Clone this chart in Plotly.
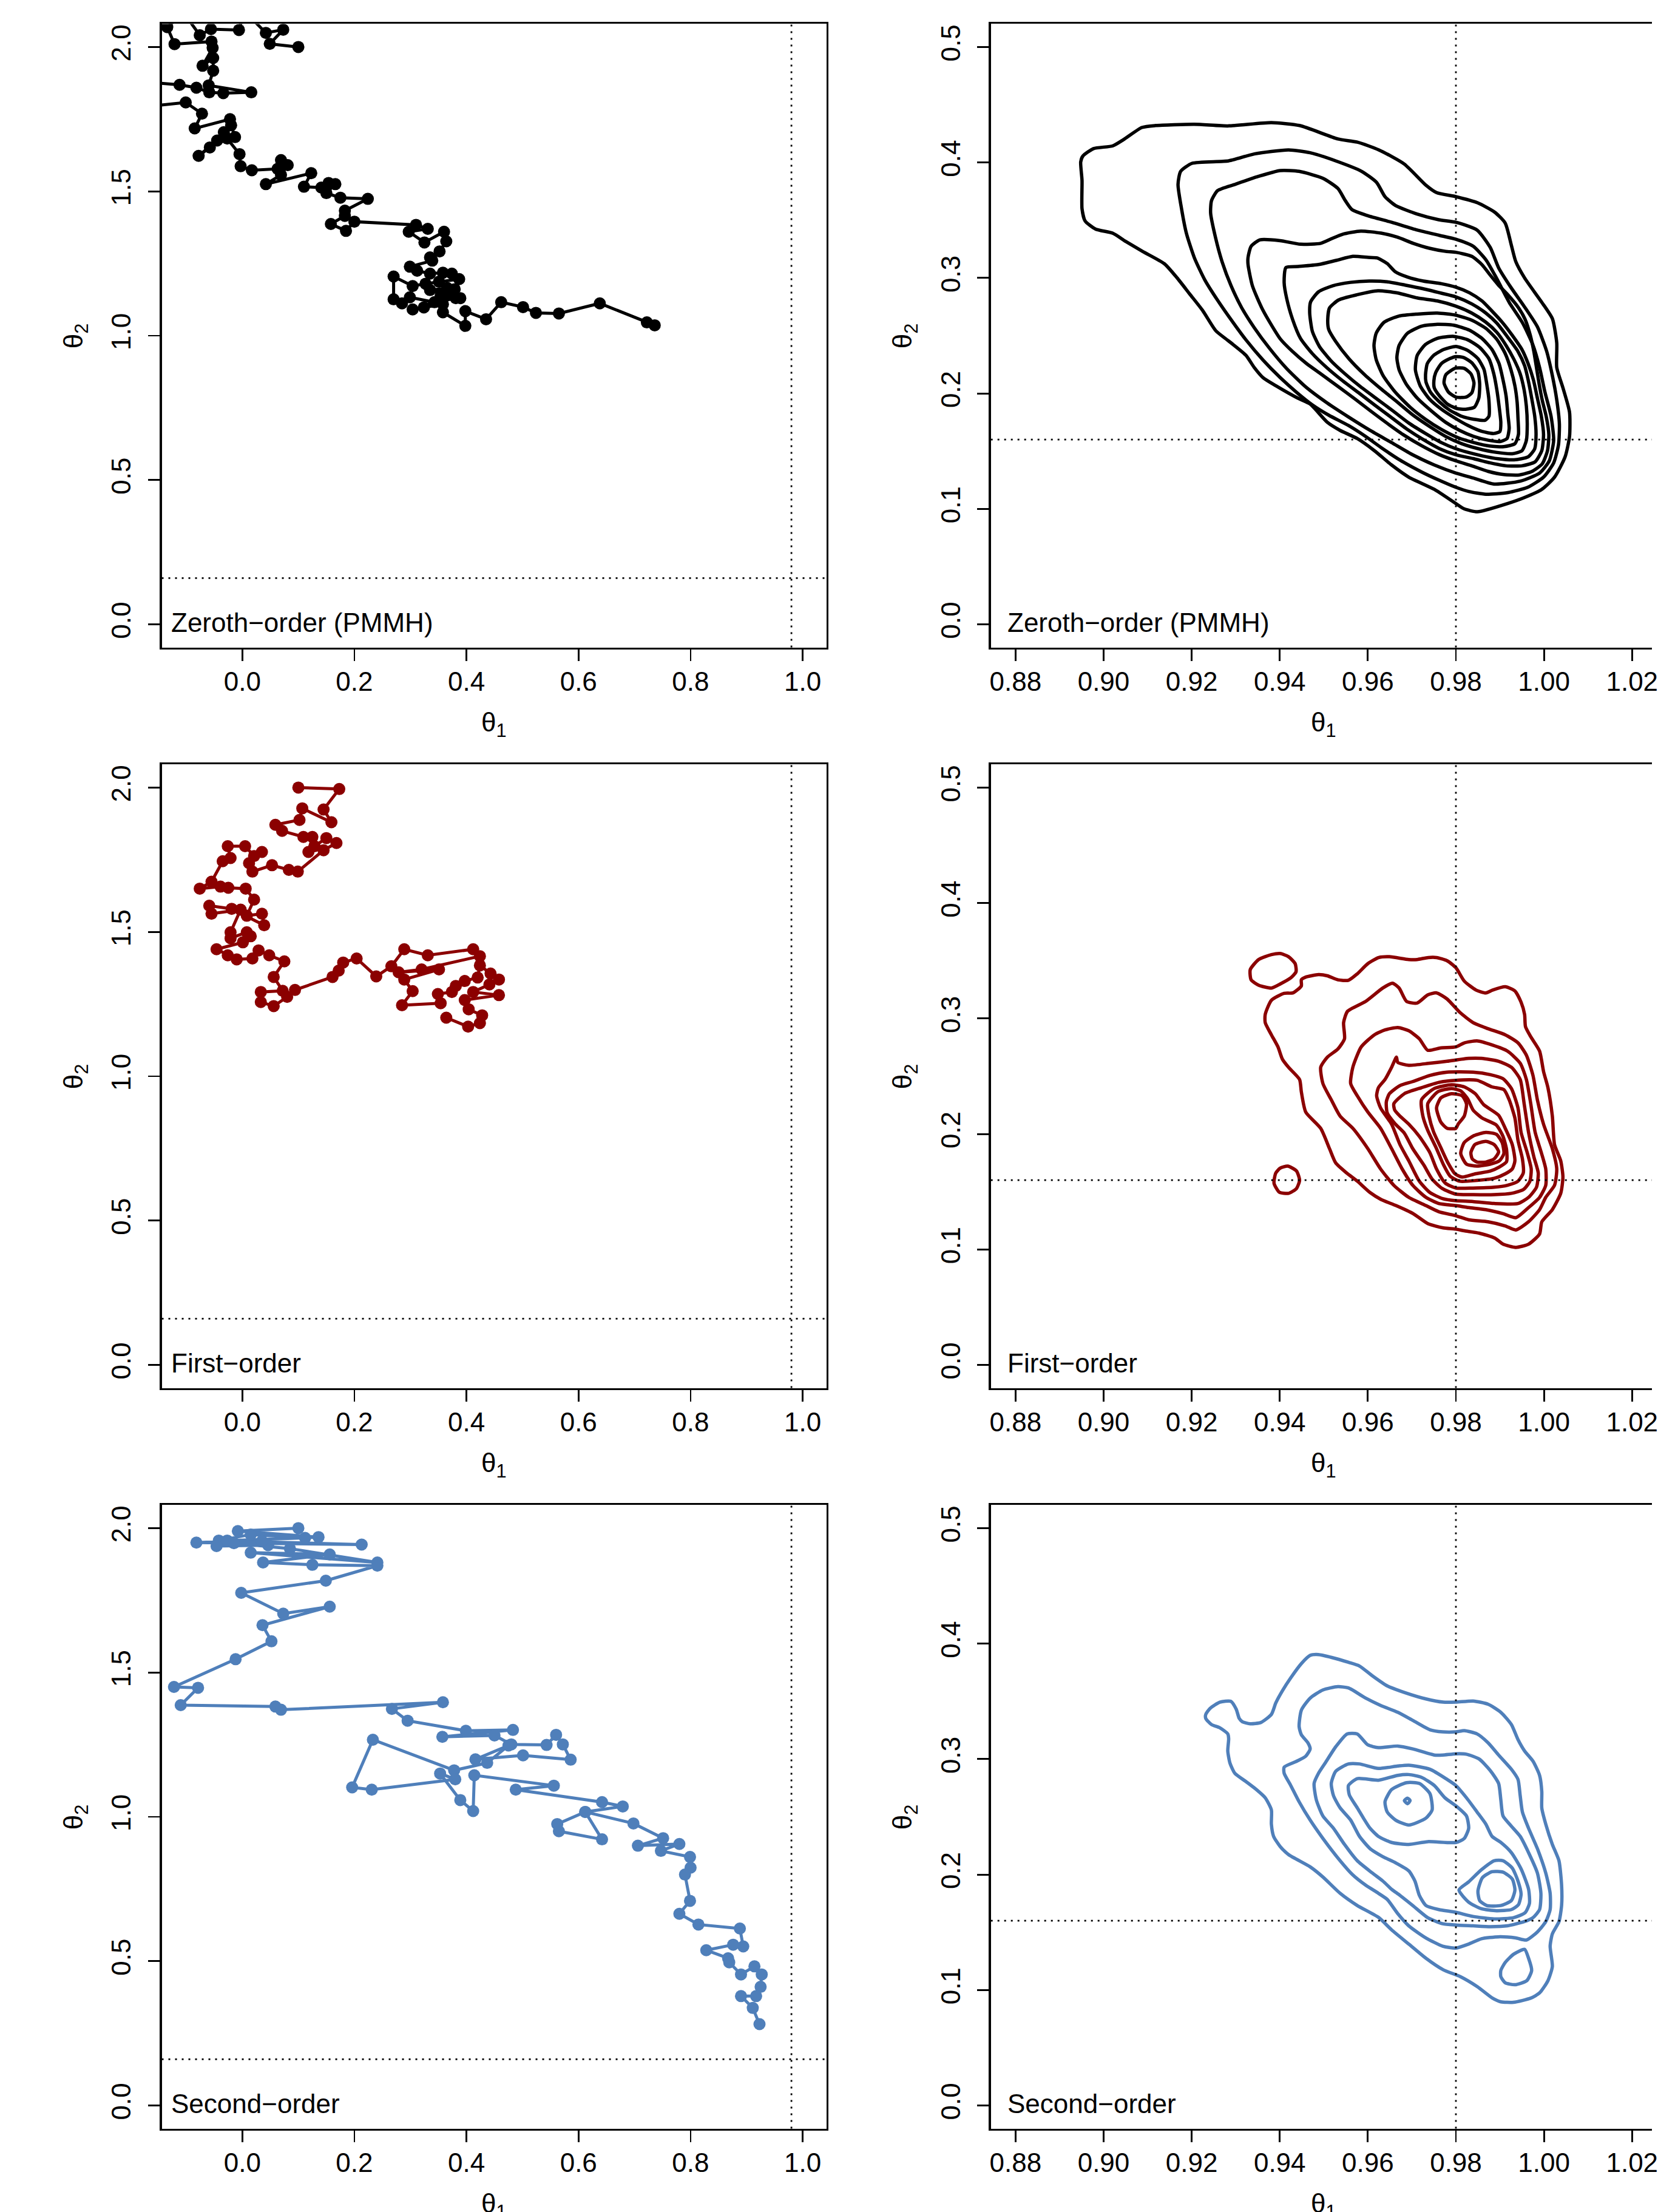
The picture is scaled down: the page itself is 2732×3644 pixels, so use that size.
import plotly.graph_objects as go

# ---------------- data ----------------
theta_true = [0.98, 0.16]

zeroth_theta1 = [0.100, 0.049, 0.073, 0.042, 0.004, -0.006, -0.056, -0.076, -0.104, -0.134,
                 -0.121, -0.055, -0.053, -0.071, -0.052, -0.052, -0.060, 0.016, -0.034, -0.059,
                 -0.082, -0.112, -0.181, -0.189, -0.101, -0.072, -0.085, -0.022, -0.020, -0.013,
                 -0.033, -0.045, -0.078, -0.058, -0.027, -0.005, -0.003, 0.017, 0.063, 0.069,
                 0.081, 0.069, 0.042, 0.123, 0.110, 0.141, 0.154, 0.166, 0.150, 0.175,
                 0.224, 0.183, 0.183, 0.158, 0.185, 0.200, 0.310, 0.331, 0.297, 0.325,
                 0.360, 0.364, 0.352, 0.335, 0.339, 0.299, 0.312, 0.335, 0.358, 0.374,
                 0.387, 0.351, 0.327, 0.304, 0.270, 0.270, 0.285, 0.299, 0.343, 0.381,
                 0.389, 0.364, 0.335, 0.366, 0.379, 0.354, 0.324, 0.304, 0.358, 0.358,
                 0.398, 0.398, 0.435, 0.462, 0.501, 0.524, 0.565, 0.638, 0.722, 0.736]
zeroth_theta2 = [2.000, 2.011, 2.060, 2.049, 2.124, 2.059, 2.062, 2.041, 2.117, 2.069,
                 2.010, 2.019, 1.997, 1.935, 1.962, 1.918, 1.867, 1.843, 1.840, 1.843,
                 1.859, 1.869, 1.880, 1.790, 1.808, 1.769, 1.718, 1.750, 1.729, 1.688,
                 1.705, 1.676, 1.623, 1.652, 1.683, 1.629, 1.587, 1.573, 1.578, 1.608,
                 1.591, 1.557, 1.525, 1.563, 1.516, 1.513, 1.529, 1.525, 1.494, 1.478,
                 1.474, 1.433, 1.415, 1.387, 1.363, 1.395, 1.384, 1.370, 1.360, 1.323,
                 1.360, 1.327, 1.292, 1.271, 1.260, 1.239, 1.225, 1.215, 1.218, 1.215,
                 1.196, 1.187, 1.180, 1.172, 1.205, 1.126, 1.112, 1.133, 1.116, 1.130,
                 1.130, 1.147, 1.158, 1.165, 1.161, 1.140, 1.098, 1.091, 1.109, 1.081,
                 1.034, 1.085, 1.057, 1.116, 1.099, 1.079, 1.077, 1.112, 1.046, 1.036]

first_theta1 = [0.100, 0.173, 0.145, 0.159, 0.107, 0.102, 0.059, 0.071, 0.109, 0.125,
                0.118, 0.129, 0.150, 0.168, 0.145, 0.099, 0.083, 0.053, 0.018, 0.012,
                0.035, 0.021, 0.005, -0.026, -0.021, -0.035, -0.055, -0.076, -0.039, -0.025,
                0.006, 0.021, 0.008, 0.035, 0.039, -0.019, -0.059, -0.055, -0.003, -0.021,
                -0.021, 0.008, 0.015, 0.001, -0.046, -0.026, -0.010, 0.018, 0.029, 0.048,
                0.075, 0.056, 0.072, 0.033, 0.033, 0.056, 0.080, 0.094, 0.161, 0.172,
                0.180, 0.204, 0.239, 0.266, 0.289, 0.331, 0.412, 0.424, 0.320, 0.279,
                0.351, 0.289, 0.304, 0.285, 0.354, 0.349, 0.374, 0.381, 0.397, 0.420,
                0.424, 0.443, 0.458, 0.441, 0.412, 0.458, 0.397, 0.404, 0.428, 0.424,
                0.403, 0.364]
first_theta2 = [2.000, 1.995, 1.924, 1.880, 1.928, 1.888, 1.871, 1.850, 1.829, 1.829,
                1.777, 1.797, 1.825, 1.808, 1.783, 1.709, 1.715, 1.731, 1.709, 1.738,
                1.777, 1.763, 1.797, 1.797, 1.756, 1.745, 1.674, 1.650, 1.657, 1.653,
                1.650, 1.612, 1.556, 1.563, 1.523, 1.580, 1.591, 1.563, 1.577, 1.499,
                1.478, 1.499, 1.485, 1.464, 1.440, 1.419, 1.405, 1.408, 1.436, 1.419,
                1.398, 1.344, 1.296, 1.292, 1.257, 1.243, 1.275, 1.299, 1.344, 1.366,
                1.394, 1.408, 1.346, 1.381, 1.440, 1.419, 1.440, 1.416, 1.370, 1.360,
                1.370, 1.335, 1.295, 1.246, 1.253, 1.285, 1.292, 1.313, 1.330, 1.342,
                1.384, 1.356, 1.335, 1.318, 1.292, 1.281, 1.264, 1.232, 1.211, 1.184,
                1.172, 1.203]

second_theta1 = [0.100, -0.008, 0.136, -0.082, 0.213, -0.042, 0.015, 0.112, -0.027, -0.046,
                 0.046, 0.035, -0.015, 0.085, 0.241, 0.015, 0.156, 0.037, 0.125, 0.241,
                 0.149, -0.002, 0.073, 0.156, 0.036, 0.052, -0.012, -0.122, -0.079, -0.110,
                 0.059, 0.069, 0.358, 0.267, 0.295, 0.399, 0.483, 0.357, 0.450, 0.480,
                 0.543, 0.560, 0.572, 0.586, 0.501, 0.416, 0.475, 0.437, 0.378, 0.233,
                 0.196, 0.231, 0.380, 0.353, 0.389, 0.412, 0.414, 0.556, 0.488, 0.642,
                 0.679, 0.612, 0.642, 0.565, 0.562, 0.612, 0.698, 0.751, 0.706, 0.780,
                 0.747, 0.799, 0.800, 0.790, 0.799, 0.780, 0.814, 0.888, 0.894, 0.876,
                 0.828, 0.867, 0.869, 0.890, 0.914, 0.927, 0.925, 0.917, 0.890, 0.911,
                 0.923]
second_theta2 = [2.000, 1.990, 1.969, 1.950, 1.943, 1.957, 1.978, 1.966, 1.957, 1.938,
                 1.941, 1.955, 1.948, 1.929, 1.881, 1.915, 1.909, 1.881, 1.873, 1.870,
                 1.818, 1.776, 1.704, 1.728, 1.664, 1.608, 1.546, 1.450, 1.447, 1.387,
                 1.382, 1.371, 1.397, 1.374, 1.333, 1.298, 1.301, 1.277, 1.282, 1.251,
                 1.249, 1.284, 1.251, 1.198, 1.213, 1.199, 1.247, 1.187, 1.161, 1.267,
                 1.102, 1.094, 1.130, 1.150, 1.058, 1.020, 1.144, 1.108, 1.094, 1.051,
                 1.036, 1.017, 0.922, 0.950, 0.975, 1.017, 0.977, 0.926, 0.900, 0.906,
                 0.882, 0.861, 0.824, 0.800, 0.709, 0.664, 0.627, 0.613, 0.551, 0.557,
                 0.538, 0.510, 0.496, 0.454, 0.482, 0.454, 0.411, 0.379, 0.379, 0.338,
                 0.282]

# density contour rings (theta1 / theta2), one list per ring, outermost first
zeroth_contour_theta1 = [
    [0.8953, 0.8977, 0.9021, 0.9045, 0.9087, 0.9118, 0.9206, 0.9284, 0.9381, 0.9445, 0.9532, 0.9576,
     0.9625, 0.9683, 0.9732, 0.9756, 0.9800, 0.9849, 0.9888, 0.9912, 0.9926, 0.9936, 0.9956, 0.9995,
     1.0019, 1.0029, 1.0029, 1.0043, 1.0058, 1.0058, 1.0048, 1.0024, 0.9995, 0.9956, 0.9917, 0.9849,
     0.9819, 0.9800, 0.9751, 0.9693, 0.9654, 0.9615, 0.9576, 0.9537, 0.9508, 0.9469, 0.9440, 0.9391,
     0.9362, 0.9342, 0.9323, 0.9284, 0.9255, 0.9225, 0.9196, 0.9167, 0.9138, 0.9089, 0.9050, 0.9021,
     0.8982, 0.8958, 0.8951, 0.8951, 0.8948, 0.8953],
    [0.9169, 0.9175, 0.9201, 0.9284, 0.9342, 0.9420, 0.9469, 0.9527, 0.9586, 0.9620, 0.9639, 0.9663,
     0.9712, 0.9761, 0.9800, 0.9848, 0.9878, 0.9897, 0.9926, 0.9955, 0.9985, 1.0006, 1.0019, 1.0029,
     1.0035, 1.0033, 1.0022, 0.9999, 0.9963, 0.9918, 0.9868, 0.9829, 0.9800, 0.9761, 0.9722, 0.9673,
     0.9634, 0.9595, 0.9556, 0.9512, 0.9474, 0.9439, 0.9401, 0.9362, 0.9323, 0.9289, 0.9259, 0.9230,
     0.9206, 0.9188, 0.9177, 0.9169],
    [0.9243, 0.9245, 0.9259, 0.9298, 0.9352, 0.9401, 0.9444, 0.9498, 0.9532, 0.9549, 0.9564, 0.9600,
     0.9654, 0.9712, 0.9761, 0.9800, 0.9839, 0.9868, 0.9892, 0.9921, 0.9951, 0.9975, 0.9990, 1.0002,
     1.0016, 1.0022, 1.0012, 0.9990, 0.9946, 0.9887, 0.9839, 0.9800, 0.9751, 0.9702, 0.9654, 0.9605,
     0.9556, 0.9508, 0.9459, 0.9415, 0.9376, 0.9342, 0.9313, 0.9289, 0.9269, 0.9254, 0.9243],
    [0.9328, 0.9335, 0.9355, 0.9401, 0.9447, 0.9493, 0.9520, 0.9543, 0.9584, 0.9630, 0.9667, 0.9703,
     0.9740, 0.9777, 0.9800, 0.9836, 0.9859, 0.9877, 0.9896, 0.9918, 0.9941, 0.9957, 0.9969, 0.9977,
     0.9983, 0.9989, 0.9996, 1.0005, 1.0011, 1.0008, 0.9996, 0.9973, 0.9944, 0.9909, 0.9873, 0.9836,
     0.9800, 0.9763, 0.9722, 0.9680, 0.9644, 0.9607, 0.9571, 0.9534, 0.9493, 0.9461, 0.9429, 0.9401,
     0.9362, 0.9338, 0.9328, 0.9328],
    [0.9410, 0.9414, 0.9442, 0.9488, 0.9528, 0.9566, 0.9601, 0.9621, 0.9644, 0.9662, 0.9690, 0.9726,
     0.9767, 0.9800, 0.9831, 0.9859, 0.9882, 0.9905, 0.9928, 0.9950, 0.9964, 0.9976, 0.9985, 0.9994,
     0.9999, 0.9995, 0.9980, 0.9950, 0.9914, 0.9877, 0.9841, 0.9800, 0.9763, 0.9726, 0.9690, 0.9653,
     0.9616, 0.9580, 0.9543, 0.9507, 0.9474, 0.9447, 0.9429, 0.9416, 0.9410],
    [0.9468, 0.9470, 0.9488, 0.9520, 0.9561, 0.9603, 0.9644, 0.9685, 0.9726, 0.9767, 0.9800, 0.9836,
     0.9868, 0.9893, 0.9918, 0.9941, 0.9956, 0.9965, 0.9972, 0.9979, 0.9982, 0.9979, 0.9964, 0.9932,
     0.9896, 0.9859, 0.9822, 0.9800, 0.9767, 0.9731, 0.9694, 0.9658, 0.9621, 0.9584, 0.9548, 0.9516,
     0.9490, 0.9474, 0.9468],
    [0.9509, 0.9513, 0.9534, 0.9575, 0.9623, 0.9667, 0.9712, 0.9758, 0.9799, 0.9836, 0.9868, 0.9893,
     0.9914, 0.9932, 0.9946, 0.9955, 0.9960, 0.9962, 0.9960, 0.9950, 0.9928, 0.9891, 0.9850, 0.9813,
     0.9777, 0.9740, 0.9703, 0.9667, 0.9630, 0.9593, 0.9557, 0.9527, 0.9511, 0.9509],
    [0.9614, 0.9619, 0.9637, 0.9671, 0.9712, 0.9758, 0.9799, 0.9836, 0.9868, 0.9893, 0.9912, 0.9925,
     0.9934, 0.9939, 0.9941, 0.9942, 0.9934, 0.9909, 0.9877, 0.9841, 0.9804, 0.9767, 0.9731, 0.9696,
     0.9662, 0.9635, 0.9619, 0.9614],
    [0.9666, 0.9671, 0.9690, 0.9722, 0.9758, 0.9795, 0.9831, 0.9859, 0.9882, 0.9898, 0.9907, 0.9914,
     0.9918, 0.9921, 0.9916, 0.9900, 0.9873, 0.9841, 0.9809, 0.9777, 0.9745, 0.9712, 0.9687, 0.9671,
     0.9666],
    [0.9708, 0.9712, 0.9731, 0.9758, 0.9795, 0.9827, 0.9854, 0.9875, 0.9886, 0.9893, 0.9898, 0.9902,
     0.9900, 0.9886, 0.9859, 0.9827, 0.9795, 0.9767, 0.9740, 0.9719, 0.9708],
    [0.9731, 0.9735, 0.9749, 0.9772, 0.9800, 0.9827, 0.9850, 0.9864, 0.9870, 0.9875, 0.9875, 0.9866,
     0.9841, 0.9813, 0.9786, 0.9763, 0.9742, 0.9732, 0.9731],
    [0.9750, 0.9754, 0.9767, 0.9786, 0.9800, 0.9818, 0.9836, 0.9850, 0.9854, 0.9852, 0.9842, 0.9822,
     0.9802, 0.9781, 0.9763, 0.9751, 0.9750],
    [0.9773, 0.9777, 0.9799, 0.9819, 0.9834, 0.9841, 0.9836, 0.9823, 0.9800, 0.9783, 0.9773],
]
zeroth_contour_theta2 = [
    [0.4056, 0.4120, 0.4144, 0.4197, 0.4303, 0.4320, 0.4331, 0.4317, 0.4345, 0.4320, 0.4204, 0.4176,
     0.4109, 0.3986, 0.3803, 0.3739, 0.3704, 0.3651, 0.3570, 0.3475, 0.3282, 0.3141, 0.3000, 0.2789,
     0.2648, 0.2437, 0.2225, 0.2049, 0.1838, 0.1627, 0.1451, 0.1275, 0.1169, 0.1099, 0.1046, 0.0975,
     0.1000, 0.1046, 0.1169, 0.1275, 0.1380, 0.1504, 0.1609, 0.1680, 0.1750, 0.1908, 0.1961, 0.2067,
     0.2137, 0.2225, 0.2331, 0.2454, 0.2542, 0.2718, 0.2859, 0.3000, 0.3123, 0.3229, 0.3317, 0.3387,
     0.3423, 0.3493, 0.3599, 0.3845, 0.4004, 0.4056],
    [0.3810, 0.3923, 0.3993, 0.4014, 0.4074, 0.4109, 0.4084, 0.4014, 0.3923, 0.3827, 0.3704, 0.3627,
     0.3553, 0.3504, 0.3482, 0.3415, 0.3264, 0.3088, 0.2912, 0.2754, 0.2577, 0.2366, 0.2155, 0.1944,
     0.1733, 0.1556, 0.1398, 0.1275, 0.1187, 0.1141, 0.1127, 0.1151, 0.1187, 0.1250, 0.1320, 0.1423,
     0.1521, 0.1627, 0.1722, 0.1810, 0.1901, 0.2007, 0.2137, 0.2289, 0.2465, 0.2641, 0.2806, 0.2982,
     0.3176, 0.3387, 0.3599, 0.3810],
    [0.3563, 0.3669, 0.3757, 0.3810, 0.3880, 0.3930, 0.3923, 0.3863, 0.3775, 0.3669, 0.3592, 0.3539,
     0.3482, 0.3415, 0.3370, 0.3335, 0.3275, 0.3158, 0.3000, 0.2789, 0.2613, 0.2419, 0.2225, 0.2014,
     0.1803, 0.1592, 0.1416, 0.1310, 0.1240, 0.1215, 0.1268, 0.1310, 0.1380, 0.1468, 0.1574, 0.1680,
     0.1796, 0.1916, 0.2056, 0.2218, 0.2394, 0.2570, 0.2746, 0.2937, 0.3141, 0.3352, 0.3563],
    [0.3178, 0.3274, 0.3330, 0.3323, 0.3292, 0.3300, 0.3344, 0.3379, 0.3406, 0.3388, 0.3353, 0.3300,
     0.3257, 0.3230, 0.3222, 0.3187, 0.3116, 0.3029, 0.2941, 0.2854, 0.2748, 0.2643, 0.2503, 0.2363,
     0.2223, 0.2082, 0.1942, 0.1802, 0.1644, 0.1504, 0.1390, 0.1325, 0.1294, 0.1297, 0.1325, 0.1373,
     0.1416, 0.1469, 0.1548, 0.1644, 0.1741, 0.1846, 0.1951, 0.2056, 0.2170, 0.2258, 0.2363, 0.2473,
     0.2719, 0.2931, 0.3116, 0.3178],
    [0.2959, 0.3090, 0.3099, 0.3116, 0.3152, 0.3187, 0.3178, 0.3173, 0.3125, 0.3055, 0.3008, 0.2973,
     0.2950, 0.2920, 0.2871, 0.2801, 0.2713, 0.2617, 0.2503, 0.2380, 0.2258, 0.2117, 0.1960, 0.1802,
     0.1644, 0.1504, 0.1408, 0.1373, 0.1373, 0.1399, 0.1434, 0.1469, 0.1521, 0.1600, 0.1688, 0.1793,
     0.1898, 0.2003, 0.2109, 0.2223, 0.2345, 0.2477, 0.2643, 0.2818, 0.2959],
    [0.2696, 0.2792, 0.2880, 0.2932, 0.2962, 0.2973, 0.2967, 0.2938, 0.2906, 0.2868, 0.2836, 0.2775,
     0.2696, 0.2608, 0.2485, 0.2363, 0.2240, 0.2100, 0.1960, 0.1802, 0.1644, 0.1521, 0.1451, 0.1425,
     0.1434, 0.1460, 0.1495, 0.1521, 0.1574, 0.1653, 0.1741, 0.1846, 0.1951, 0.2056, 0.2170, 0.2284,
     0.2407, 0.2538, 0.2696],
    [0.2643, 0.2740, 0.2810, 0.2854, 0.2889, 0.2871, 0.2827, 0.2801, 0.2757, 0.2696, 0.2617, 0.2529,
     0.2415, 0.2293, 0.2170, 0.2030, 0.1890, 0.1732, 0.1592, 0.1504, 0.1478, 0.1490, 0.1522, 0.1565,
     0.1627, 0.1714, 0.1811, 0.1925, 0.2039, 0.2161, 0.2301, 0.2450, 0.2556, 0.2643],
    [0.2415, 0.2521, 0.2617, 0.2670, 0.2687, 0.2696, 0.2678, 0.2634, 0.2564, 0.2468, 0.2345, 0.2205,
     0.2065, 0.1925, 0.1784, 0.1644, 0.1565, 0.1539, 0.1544, 0.1574, 0.1618, 0.1688, 0.1776, 0.1881,
     0.2012, 0.2152, 0.2293, 0.2415],
    [0.2310, 0.2415, 0.2521, 0.2582, 0.2599, 0.2591, 0.2547, 0.2477, 0.2380, 0.2258, 0.2117, 0.1977,
     0.1819, 0.1697, 0.1609, 0.1583, 0.1595, 0.1627, 0.1679, 0.1749, 0.1846, 0.1960, 0.2082, 0.2205,
     0.2310],
    [0.2205, 0.2328, 0.2424, 0.2477, 0.2494, 0.2464, 0.2398, 0.2301, 0.2170, 0.2030, 0.1890, 0.1749,
     0.1671, 0.1653, 0.1671, 0.1723, 0.1793, 0.1863, 0.1951, 0.2065, 0.2205],
    [0.2161, 0.2258, 0.2328, 0.2380, 0.2407, 0.2372, 0.2301, 0.2205, 0.2082, 0.1942, 0.1802, 0.1767,
     0.1776, 0.1802, 0.1855, 0.1925, 0.2012, 0.2100, 0.2161],
    [0.2109, 0.2179, 0.2258, 0.2301, 0.2319, 0.2310, 0.2266, 0.2188, 0.2082, 0.1960, 0.1881, 0.1863,
     0.1869, 0.1907, 0.1977, 0.2047, 0.2109],
    [0.2091, 0.2161, 0.2219, 0.2217, 0.2170, 0.2091, 0.2004, 0.1968, 0.1968, 0.2012, 0.2091],
]

first_contour_theta1 = [
    [0.9333, 0.9352, 0.9381, 0.9401, 0.9420, 0.9435, 0.9437, 0.9425, 0.9401, 0.9381, 0.9352, 0.9335, 0.9333],
    [0.9391, 0.9401, 0.9418, 0.9438, 0.9445, 0.9438, 0.9420, 0.9399, 0.9387, 0.9391],
    [0.9367, 0.9381, 0.9410, 0.9430, 0.9449, 0.9449, 0.9459, 0.9488, 0.9508, 0.9532, 0.9556, 0.9576,
     0.9600, 0.9625, 0.9649, 0.9693, 0.9712, 0.9737, 0.9756, 0.9780, 0.9800, 0.9819, 0.9846, 0.9868,
     0.9883, 0.9912, 0.9934, 0.9948, 0.9956, 0.9958, 0.9970, 0.9990, 0.9999, 1.0009, 1.0019, 1.0024,
     1.0038, 1.0043, 1.0038, 1.0019, 0.9995, 0.9990, 0.9965, 0.9936, 0.9907, 0.9888, 0.9853, 0.9819,
     0.9800, 0.9771, 0.9737, 0.9703, 0.9664, 0.9630, 0.9605, 0.9576, 0.9552, 0.9527, 0.9513, 0.9493,
     0.9459, 0.9449, 0.9445, 0.9420, 0.9406, 0.9396, 0.9381, 0.9367, 0.9367],
    [0.9545, 0.9554, 0.9595, 0.9634, 0.9656, 0.9671, 0.9688, 0.9712, 0.9736, 0.9756, 0.9780, 0.9809,
     0.9839, 0.9873, 0.9912, 0.9941, 0.9960, 0.9975, 0.9985, 0.9999, 1.0019, 1.0029, 1.0024, 1.0004,
     0.9990, 0.9965, 0.9936, 0.9912, 0.9873, 0.9829, 0.9800, 0.9761, 0.9732, 0.9693, 0.9659, 0.9629,
     0.9600, 0.9566, 0.9537, 0.9517, 0.9498, 0.9493, 0.9508, 0.9532, 0.9547, 0.9545],
    [0.9561, 0.9566, 0.9585, 0.9615, 0.9639, 0.9668, 0.9693, 0.9717, 0.9736, 0.9766, 0.9800, 0.9819,
     0.9848, 0.9882, 0.9917, 0.9946, 0.9960, 0.9970, 0.9980, 0.9994, 1.0004, 1.0004, 0.9990, 0.9965,
     0.9936, 0.9907, 0.9868, 0.9829, 0.9800, 0.9761, 0.9732, 0.9702, 0.9678, 0.9654, 0.9629, 0.9600,
     0.9576, 0.9561],
    [0.9639, 0.9654, 0.9665, 0.9668, 0.9693, 0.9741, 0.9780, 0.9829, 0.9858, 0.9897, 0.9926, 0.9946,
     0.9955, 0.9965, 0.9977, 0.9987, 0.9983, 0.9965, 0.9941, 0.9887, 0.9839, 0.9800, 0.9770, 0.9741,
     0.9717, 0.9693, 0.9673, 0.9654, 0.9629, 0.9620, 0.9624, 0.9639],
    [0.9649, 0.9673, 0.9702, 0.9741, 0.9780, 0.9839, 0.9878, 0.9907, 0.9926, 0.9941, 0.9948, 0.9962,
     0.9971, 0.9968, 0.9954, 0.9926, 0.9887, 0.9839, 0.9800, 0.9769, 0.9746, 0.9727, 0.9702, 0.9683,
     0.9661, 0.9644, 0.9642, 0.9649],
    [0.9659, 0.9683, 0.9722, 0.9761, 0.9800, 0.9848, 0.9882, 0.9909, 0.9921, 0.9934, 0.9941, 0.9951,
     0.9953, 0.9941, 0.9917, 0.9887, 0.9839, 0.9800, 0.9776, 0.9756, 0.9741, 0.9717, 0.9693, 0.9673,
     0.9661, 0.9659],
    [0.9722, 0.9751, 0.9790, 0.9819, 0.9844, 0.9863, 0.9897, 0.9912, 0.9928, 0.9934, 0.9928, 0.9912,
     0.9887, 0.9848, 0.9809, 0.9787, 0.9772, 0.9756, 0.9736, 0.9725, 0.9722],
    [0.9736, 0.9759, 0.9790, 0.9811, 0.9827, 0.9839, 0.9860, 0.9892, 0.9907, 0.9915, 0.9915, 0.9899,
     0.9878, 0.9844, 0.9814, 0.9798, 0.9782, 0.9766, 0.9749, 0.9739, 0.9736],
    [0.9756, 0.9766, 0.9790, 0.9814, 0.9824, 0.9819, 0.9805, 0.9800, 0.9780, 0.9766, 0.9756],
    [0.9811, 0.9819, 0.9841, 0.9868, 0.9892, 0.9905, 0.9909, 0.9899, 0.9878, 0.9848, 0.9824, 0.9811],
    [0.9834, 0.9843, 0.9868, 0.9887, 0.9897, 0.9887, 0.9868, 0.9848, 0.9837, 0.9834],
]
first_contour_theta2 = [
    [0.3423, 0.3511, 0.3553, 0.3563, 0.3535, 0.3475, 0.3405, 0.3352, 0.3299, 0.3264, 0.3289, 0.3335, 0.3423],
    [0.1662, 0.1704, 0.1722, 0.1680, 0.1599, 0.1528, 0.1486, 0.1496, 0.1574, 0.1662],
    [0.3035, 0.3158, 0.3218, 0.3222, 0.3282, 0.3335, 0.3359, 0.3380, 0.3370, 0.3335, 0.3331, 0.3387,
     0.3475, 0.3528, 0.3535, 0.3511, 0.3511, 0.3528, 0.3528, 0.3500, 0.3440, 0.3324, 0.3246, 0.3222,
     0.3246, 0.3275, 0.3239, 0.3141, 0.3035, 0.2930, 0.2842, 0.2718, 0.2542, 0.2401, 0.2155, 0.1908,
     0.1768, 0.1627, 0.1486, 0.1345, 0.1239, 0.1134, 0.1046, 0.1018, 0.1046, 0.1099, 0.1141, 0.1162,
     0.1176, 0.1187, 0.1222, 0.1310, 0.1380, 0.1433, 0.1493, 0.1592, 0.1662, 0.1750, 0.1873, 0.2049,
     0.2190, 0.2366, 0.2472, 0.2577, 0.2648, 0.2754, 0.2859, 0.2965, 0.3035],
    [0.2965, 0.3063, 0.3148, 0.3264, 0.3306, 0.3264, 0.3148, 0.3134, 0.3204, 0.3222, 0.3169, 0.3053,
     0.2965, 0.2912, 0.2859, 0.2789, 0.2683, 0.2507, 0.2296, 0.2085, 0.1873, 0.1697, 0.1556, 0.1451,
     0.1345, 0.1240, 0.1169, 0.1204, 0.1240, 0.1257, 0.1292, 0.1327, 0.1380, 0.1451, 0.1556, 0.1697,
     0.1873, 0.2049, 0.2155, 0.2296, 0.2437, 0.2578, 0.2665, 0.2736, 0.2824, 0.2965],
    [0.2437, 0.2578, 0.2754, 0.2859, 0.2901, 0.2922, 0.2894, 0.2824, 0.2725, 0.2746, 0.2754, 0.2789,
     0.2806, 0.2771, 0.2718, 0.2613, 0.2472, 0.2261, 0.2014, 0.1838, 0.1697, 0.1556, 0.1451, 0.1363,
     0.1275, 0.1310, 0.1345, 0.1363, 0.1380, 0.1398, 0.1451, 0.1556, 0.1697, 0.1873, 0.2049, 0.2190,
     0.2331, 0.2437],
    [0.2472, 0.2578, 0.2665, 0.2620, 0.2595, 0.2613, 0.2630, 0.2655, 0.2655, 0.2630, 0.2578, 0.2472,
     0.2261, 0.2014, 0.1803, 0.1662, 0.1539, 0.1451, 0.1398, 0.1398, 0.1415, 0.1422, 0.1440, 0.1493,
     0.1591, 0.1768, 0.1908, 0.2085, 0.2225, 0.2331, 0.2401, 0.2472],
    [0.2349, 0.2419, 0.2454, 0.2507, 0.2535, 0.2535, 0.2514, 0.2479, 0.2394, 0.2225, 0.2014, 0.1838,
     0.1697, 0.1591, 0.1521, 0.1486, 0.1475, 0.1475, 0.1479, 0.1528, 0.1609, 0.1732, 0.1873, 0.2007,
     0.2092, 0.2183, 0.2278, 0.2349],
    [0.2261, 0.2349, 0.2401, 0.2447, 0.2465, 0.2465, 0.2408, 0.2384, 0.2296, 0.2138, 0.1944, 0.1785,
     0.1662, 0.1591, 0.1556, 0.1539, 0.1532, 0.1532, 0.1574, 0.1697, 0.1838, 0.1979, 0.2085, 0.2155,
     0.2208, 0.2261],
    [0.2296, 0.2394, 0.2426, 0.2408, 0.2349, 0.2254, 0.2162, 0.2049, 0.1908, 0.1768, 0.1697, 0.1655,
     0.1616, 0.1598, 0.1591, 0.1634, 0.1732, 0.1873, 0.2032, 0.2155, 0.2296],
    [0.2261, 0.2366, 0.2394, 0.2373, 0.2303, 0.2208, 0.2137, 0.2077, 0.1979, 0.1866, 0.1760, 0.1715,
     0.1679, 0.1655, 0.1627, 0.1655, 0.1750, 0.1880, 0.2021, 0.2155, 0.2261],
    [0.2225, 0.2313, 0.2349, 0.2331, 0.2261, 0.2155, 0.2085, 0.2049, 0.2049, 0.2102, 0.2225],
    [0.1831, 0.1926, 0.1986, 0.2014, 0.1997, 0.1926, 0.1831, 0.1768, 0.1739, 0.1722, 0.1739, 0.1831],
    [0.1838, 0.1908, 0.1936, 0.1908, 0.1845, 0.1785, 0.1757, 0.1757, 0.1785, 0.1838],
]

second_contour_theta1 = [
    [0.9232, 0.9242, 0.9264, 0.9289, 0.9301, 0.9308, 0.9315, 0.9333, 0.9357, 0.9381, 0.9391, 0.9406,
     0.9425, 0.9449, 0.9469, 0.9488, 0.9518, 0.9556, 0.9581, 0.9610, 0.9644, 0.9683, 0.9732, 0.9771,
     0.9800, 0.9839, 0.9873, 0.9902, 0.9926, 0.9941, 0.9956, 0.9975, 0.9990, 0.9995, 0.9995, 1.0004,
     1.0019, 1.0034, 1.0040, 1.0040, 1.0034, 1.0019, 1.0014, 1.0019, 1.0009, 0.9990, 0.9970, 0.9931,
     0.9902, 0.9883, 0.9849, 0.9810, 0.9771, 0.9732, 0.9693, 0.9654, 0.9625, 0.9576, 0.9537, 0.9498,
     0.9469, 0.9420, 0.9401, 0.9386, 0.9381, 0.9381, 0.9367, 0.9347, 0.9323, 0.9298, 0.9287, 0.9282,
     0.9284, 0.9282, 0.9264, 0.9245, 0.9232, 0.9232],
    [0.9902, 0.9912, 0.9931, 0.9956, 0.9965, 0.9972, 0.9961, 0.9934, 0.9912, 0.9902, 0.9902],
    [0.9444, 0.9449, 0.9469, 0.9498, 0.9532, 0.9556, 0.9595, 0.9629, 0.9668, 0.9702, 0.9741, 0.9770,
     0.9800, 0.9819, 0.9848, 0.9873, 0.9897, 0.9926, 0.9941, 0.9946, 0.9951, 0.9965, 0.9985, 1.0004,
     1.0014, 1.0014, 1.0004, 0.9985, 0.9960, 0.9936, 0.9897, 0.9858, 0.9829, 0.9800, 0.9770, 0.9732,
     0.9693, 0.9668, 0.9644, 0.9624, 0.9595, 0.9566, 0.9537, 0.9498, 0.9469, 0.9444, 0.9425, 0.9410,
     0.9410, 0.9439, 0.9459, 0.9469, 0.9464, 0.9449, 0.9444],
    [0.9503, 0.9527, 0.9553, 0.9576, 0.9600, 0.9624, 0.9668, 0.9702, 0.9751, 0.9770, 0.9800, 0.9824,
     0.9853, 0.9878, 0.9897, 0.9902, 0.9907, 0.9926, 0.9946, 0.9965, 0.9985, 0.9993, 0.9990, 0.9975,
     0.9955, 0.9917, 0.9878, 0.9839, 0.9800, 0.9770, 0.9736, 0.9702, 0.9673, 0.9654, 0.9634, 0.9610,
     0.9576, 0.9547, 0.9522, 0.9498, 0.9483, 0.9478, 0.9488, 0.9503],
    [0.9517, 0.9527, 0.9556, 0.9581, 0.9624, 0.9668, 0.9693, 0.9741, 0.9780, 0.9800, 0.9824, 0.9848,
     0.9868, 0.9882, 0.9902, 0.9926, 0.9948, 0.9965, 0.9967, 0.9957, 0.9931, 0.9887, 0.9839, 0.9800,
     0.9761, 0.9732, 0.9717, 0.9707, 0.9693, 0.9663, 0.9634, 0.9605, 0.9581, 0.9561, 0.9537, 0.9522,
     0.9517],
    [0.9556, 0.9576, 0.9624, 0.9668, 0.9693, 0.9722, 0.9751, 0.9775, 0.9800, 0.9824, 0.9829, 0.9819,
     0.9800, 0.9736, 0.9693, 0.9654, 0.9624, 0.9605, 0.9590, 0.9576, 0.9558, 0.9556],
    [0.9639, 0.9654, 0.9688, 0.9717, 0.9741, 0.9746, 0.9732, 0.9693, 0.9663, 0.9644, 0.9639],
    [0.9683, 0.9690, 0.9696, 0.9690, 0.9683],
    [0.9807, 0.9829, 0.9858, 0.9887, 0.9907, 0.9928, 0.9941, 0.9948, 0.9942, 0.9926, 0.9892, 0.9858,
     0.9829, 0.9807],
    [0.9850, 0.9860, 0.9882, 0.9907, 0.9928, 0.9934, 0.9926, 0.9902, 0.9870, 0.9854, 0.9850],
]
second_contour_theta2 = [
    [0.3387, 0.3440, 0.3493, 0.3500, 0.3433, 0.3352, 0.3324, 0.3306, 0.3317, 0.3387, 0.3486, 0.3592,
     0.3704, 0.3827, 0.3898, 0.3905, 0.3880, 0.3838, 0.3806, 0.3722, 0.3634, 0.3577, 0.3521, 0.3493,
     0.3493, 0.3503, 0.3475, 0.3405, 0.3299, 0.3169, 0.3070, 0.2982, 0.2859, 0.2718, 0.2577, 0.2437,
     0.2261, 0.2120, 0.1908, 0.1732, 0.1592, 0.1486, 0.1380, 0.1204, 0.1081, 0.0975, 0.0930, 0.0894,
     0.0898, 0.0930, 0.1028, 0.1116, 0.1176, 0.1275, 0.1398, 0.1521, 0.1627, 0.1732, 0.1838, 0.1979,
     0.2067, 0.2173, 0.2243, 0.2331, 0.2437, 0.2560, 0.2665, 0.2736, 0.2806, 0.2877, 0.2965, 0.3070,
     0.3176, 0.3218, 0.3271, 0.3299, 0.3352, 0.3387],
    [0.1169, 0.1239, 0.1310, 0.1352, 0.1275, 0.1169, 0.1081, 0.1046, 0.1063, 0.1116, 0.1169],
    [0.3282, 0.3423, 0.3528, 0.3599, 0.3627, 0.3616, 0.3528, 0.3465, 0.3405, 0.3335, 0.3254, 0.3236,
     0.3236, 0.3247, 0.3218, 0.3141, 0.3035, 0.2912, 0.2824, 0.2683, 0.2542, 0.2401, 0.2225, 0.2014,
     0.1838, 0.1697, 0.1592, 0.1503, 0.1433, 0.1451, 0.1461, 0.1444, 0.1398, 0.1363, 0.1380, 0.1451,
     0.1556, 0.1662, 0.1785, 0.1838, 0.1908, 0.1996, 0.2120, 0.2313, 0.2472, 0.2630, 0.2771, 0.2877,
     0.2930, 0.2982, 0.3025, 0.3088, 0.3141, 0.3211, 0.3282],
    [0.2965, 0.3106, 0.3218, 0.3218, 0.3123, 0.3099, 0.3113, 0.3088, 0.3035, 0.3035, 0.3046, 0.3042,
     0.3000, 0.2901, 0.2789, 0.2648, 0.2507, 0.2419, 0.2331, 0.2190, 0.2014, 0.1838, 0.1697, 0.1627,
     0.1592, 0.1556, 0.1549, 0.1556, 0.1563, 0.1574, 0.1627, 0.1732, 0.1820, 0.1873, 0.1944, 0.2014,
     0.2120, 0.2261, 0.2401, 0.2507, 0.2648, 0.2789, 0.2877, 0.2965],
    [0.2789, 0.2894, 0.2958, 0.2958, 0.2919, 0.2940, 0.2947, 0.2912, 0.2824, 0.2771, 0.2665, 0.2542,
     0.2437, 0.2331, 0.2278, 0.2190, 0.2049, 0.1873, 0.1750, 0.1669, 0.1627, 0.1616, 0.1637, 0.1673,
     0.1697, 0.1732, 0.1820, 0.1944, 0.2032, 0.2102, 0.2155, 0.2225, 0.2331, 0.2472, 0.2578, 0.2683,
     0.2789],
    [0.2771, 0.2831, 0.2817, 0.2859, 0.2866, 0.2842, 0.2771, 0.2665, 0.2595, 0.2507, 0.2401, 0.2313,
     0.2278, 0.2285, 0.2261, 0.2278, 0.2331, 0.2401, 0.2489, 0.2578, 0.2690, 0.2771],
    [0.2630, 0.2736, 0.2796, 0.2789, 0.2701, 0.2560, 0.2489, 0.2429, 0.2472, 0.2542, 0.2630],
    [0.2641, 0.2662, 0.2641, 0.2613, 0.2641],
    [0.1866, 0.1937, 0.2042, 0.2120, 0.2120, 0.2056, 0.1944, 0.1831, 0.1739, 0.1697, 0.1687, 0.1704,
     0.1761, 0.1866],
    [0.1856, 0.1972, 0.2025, 0.2021, 0.1961, 0.1866, 0.1775, 0.1732, 0.1732, 0.1775, 0.1856],
]

panel_labels = ["Zeroth\u2212order (PMMH)", "First\u2212order", "Second\u2212order"]
panel_colors = ["#000000", "#8B0000", "#4F7FBA"]
trace_x_ticks = [0.0, 0.2, 0.4, 0.6, 0.8, 1.0]
trace_x_labels = ["0.0", "0.2", "0.4", "0.6", "0.8", "1.0"]
trace_y_ticks = [0.0, 0.5, 1.0, 1.5, 2.0]
trace_y_labels = ["0.0", "0.5", "1.0", "1.5", "2.0"]
dens_x_ticks = [0.88, 0.90, 0.92, 0.94, 0.96, 0.98, 1.00, 1.02]
dens_x_labels = ["0.88", "0.90", "0.92", "0.94", "0.96", "0.98", "1.00", "1.02"]
dens_y_ticks = [0.0, 0.1, 0.2, 0.3, 0.4, 0.5]
dens_y_labels = ["0.0", "0.1", "0.2", "0.3", "0.4", "0.5"]

chains = [(zeroth_theta1, zeroth_theta2), (first_theta1, first_theta2), (second_theta1, second_theta2)]
contours = [(zeroth_contour_theta1, zeroth_contour_theta2),
            (first_contour_theta1, first_contour_theta2),
            (second_contour_theta1, second_contour_theta2)]

# ---------------- layout geometry (pixels) ----------------
W, H = 2732, 3644
FONT = "Liberation Sans, Arial, Helvetica, sans-serif"
row_tops = [39.4, 1259.4, 2479.4]
PLOT_H = 1027.2
col_left = [(265.7, 1365.7), (1637.9, 2732.0)]
DENS_PX_PER_UNIT = 7288.5
trace_xrange = [-0.1438, 1.0424]
trace_yrange = [-0.08, 2.08]
dens_x0 = 0.8744
dens_xrange = [dens_x0, dens_x0 + (W - col_left[1][0]) / DENS_PX_PER_UNIT]
dens_yrange = [-0.02, 0.52]


def fx(p):
    return min(1.0, p / W)


def fy(p):
    return 1 - p / H


def ax_names(i):
    s = "" if i == 1 else str(i)
    return "xaxis" + s, "yaxis" + s, "x" + s, "y" + s


fig = go.Figure()
layout = dict(width=W, height=H, autosize=False, margin=dict(l=0, r=0, t=0, b=0, pad=0),
              paper_bgcolor="white", plot_bgcolor="white", showlegend=False,
              font=dict(family=FONT, size=44, color="black"))
shapes, annotations = [], []

for r in range(3):
    top = row_tops[r]
    bot = top + PLOT_H
    color = panel_colors[r]
    for c in range(2):
        i = r * 2 + c + 1
        xa, ya, xr, yr = ax_names(i)
        x0p, x1p = col_left[c]
        common = dict(showgrid=False, zeroline=False, showline=True, linecolor="black", linewidth=3.5,
                      ticks="outside", ticklen=19, tickwidth=2.8, tickcolor="black",
                      tickfont=dict(family=FONT, size=44, color="black"), fixedrange=True,
                      ticklabeloverflow="allow")
        if c == 0:
            layout[xa] = dict(domain=[fx(x0p), fx(x1p)], range=trace_xrange, anchor=yr,
                              tickvals=trace_x_ticks, ticktext=trace_x_labels, mirror=True,
                              ticklabelstandoff=-4, **common)
            layout[ya] = dict(domain=[fy(bot), fy(top)], range=trace_yrange, anchor=xr,
                              tickvals=trace_y_ticks, ticktext=trace_y_labels, mirror=True,
                              tickangle=-90, ticklabelstandoff=11, **common)
            tx, ty = chains[r]
            fig.add_trace(go.Scatter(x=tx, y=ty, mode="lines+markers", xaxis=xr, yaxis=yr,
                                     line=dict(color=color, width=5),
                                     marker=dict(color=color, size=20)))
        else:
            layout[xa] = dict(domain=[fx(x0p), 1.0], range=dens_xrange, anchor=yr,
                              tickvals=dens_x_ticks, ticktext=dens_x_labels, mirror=True,
                              ticklabelstandoff=-4, **common)
            layout[ya] = dict(domain=[fy(bot), fy(top)], range=dens_yrange, anchor=xr,
                              tickvals=dens_y_ticks, ticktext=dens_y_labels, mirror=False,
                              tickangle=-90, ticklabelstandoff=11, **common)
            cx_list, cy_list = contours[r]
            for cx, cy in zip(cx_list, cy_list):
                fig.add_trace(go.Scatter(x=cx, y=cy, mode="lines", xaxis=xr, yaxis=yr,
                                         line=dict(color=color, width=5.5, shape="spline", smoothing=0.6)))
        # true-value reference lines
        dot = dict(color="black", width=2.8, dash="3px,8px")
        shapes.append(dict(type="line", xref=xr, yref=f"{yr} domain", x0=theta_true[0], x1=theta_true[0],
                           y0=0, y1=1, line=dot, layer="above"))
        shapes.append(dict(type="line", xref=f"{xr} domain", yref=yr, x0=0, x1=1,
                           y0=theta_true[1], y1=theta_true[1], line=dot, layer="above"))
        # panel label
        lab_x = x0p + (14 if c == 0 else 25)
        annotations.append(dict(text=panel_labels[r], xref="paper", yref="paper",
                                x=fx(lab_x), y=fy(bot - 41), xanchor="left", yanchor="middle",
                                showarrow=False, font=dict(family=FONT, size=44, color="black")))
        # axis titles
        xc = (x0p + (x1p if c == 0 else 2740.0)) / 2
        annotations.append(dict(text="\u03b8<sub>1</sub>", xref="paper", yref="paper",
                                x=fx(xc), y=fy(bot + 126), xanchor="center", yanchor="middle",
                                showarrow=False, font=dict(family=FONT, size=44, color="black")))
        annotations.append(dict(text="\u03b8<sub>2</sub>", xref="paper", yref="paper",
                                x=fx(x0p - 143), y=fy((top + bot) / 2), xanchor="center", yanchor="middle",
                                textangle=-90, showarrow=False,
                                font=dict(family=FONT, size=44, color="black")))

layout["shapes"] = shapes
layout["annotations"] = annotations
fig.update_layout(**layout)

fig.write_html("out.html",
               config={"displayModeBar": False, "staticPlot": True, "responsive": False},
               post_script="document.body.style.margin='0';document.documentElement.style.overflow='hidden';")
